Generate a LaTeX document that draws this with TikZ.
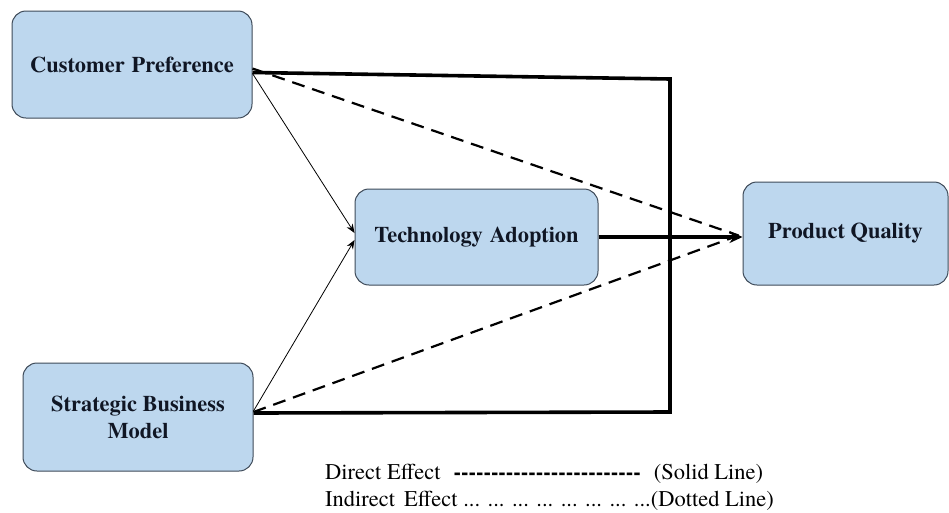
\documentclass[tikz,border=0pt]{standalone}
\usepackage{fontspec}
\setmainfont{TeX Gyre Termes}
\newfontfamily\legendfont{TeX Gyre Termes}[Ligatures=TeXOff]
\usetikzlibrary{arrows.meta,calc}
\definecolor{boxfill}{RGB}{189,215,238}
\definecolor{boxline}{RGB}{62,74,88}
\definecolor{boxtext}{RGB}{16,22,36}
\tikzset{
  box/.style={draw=boxline, line width=1pt, fill=boxfill, rounded corners=14pt,
    align=center, inner sep=0pt, text=boxtext,
    font=\fontsize{22.4}{27}\selectfont\bfseries},
  direct/.style={line width=3.6pt, line join=miter},
  indirect/.style={line width=2.2pt, dash pattern=on 13pt off 8pt},
  thinarrow/.style={line width=0.8pt, -{Stealth[length=9pt,width=7pt]}},
  bigarrow/.style={line width=3.6pt, -{Stealth[length=13pt,width=12pt]}},
  legend/.style={anchor=base west, inner sep=0pt, font=\legendfont\fontsize{22.5}{25}\selectfont}
}
\begin{document}
\begin{tikzpicture}[x=1pt,y=-1pt]
\useasboundingbox (0,0) rectangle (949,512);
\fill[white] (0,0) rectangle (949,512);

\node[box, minimum width=240pt, minimum height=107pt] (cp) at (132,64.5) {Customer\hspace{7pt}Preference};
\node[box, minimum width=230pt, minimum height=108pt] (sbm) at (138,417) {Strategic Business\\Model};
\node[box, minimum width=243pt, minimum height=96pt] (ta) at (476.5,237) {Technology\hspace{7pt}Adoption};
\node[box, minimum width=205pt, minimum height=103pt] (pq) at (845.5,233.5) {Product Quality};

\coordinate (tr) at (670,79);
\coordinate (br) at (670,412);

% direct effects (solid)
\draw[direct] ([yshift=-8pt]cp.east) -- (tr) -- (br) -- ([yshift=4pt]sbm.east);
\draw[bigarrow] (ta.east) -- (ta.east -| pq.west);

% indirect (dashed)
\draw[indirect] ([yshift=-4pt]cp.east) -- ([xshift=-4pt,yshift=-2pt]pq.west);
\draw[indirect] ([yshift=5pt]sbm.east) -- ([xshift=-4pt,yshift=-2pt]pq.west);

% thin arrows to technology adoption
\draw[thinarrow] ([yshift=-9pt]cp.east) -- ([yshift=4pt]ta.west);
\draw[thinarrow] ([yshift=6pt]sbm.east) -- ([yshift=-3pt]ta.west);

% legend
\node[legend] (leg1) at (325,479) {Direct Effect\hspace{13pt}{\bfseries -------------------------}\hspace{13pt}(Solid Line)};
\node[legend] (leg2) at (325,506) {Indirect\hspace{9pt}Effect ... ... ... ... ... ... ... ...(Dotted Line)};
\end{tikzpicture}
\end{document}
